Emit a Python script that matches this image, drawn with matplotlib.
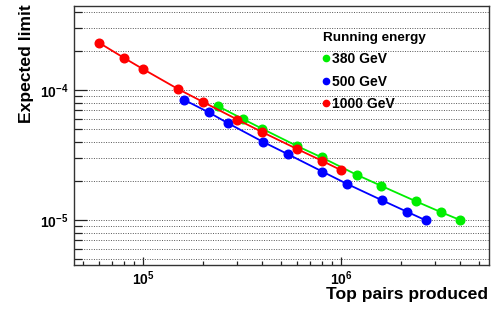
import matplotlib
matplotlib.use('Agg')
import matplotlib.pyplot as plt
from matplotlib.lines import Line2D
from matplotlib.ticker import LogLocator, FuncFormatter, NullFormatter
import numpy as np

plt.rcParams['font.family'] = ['Liberation Sans', 'DejaVu Sans']
plt.rcParams['font.weight'] = 'bold'
plt.rcParams['mathtext.fontset'] = 'custom'
plt.rcParams['mathtext.bf'] = 'Liberation Sans:bold'
plt.rcParams['mathtext.rm'] = 'Liberation Sans:bold'

# top pairs produced vs expected limit, one series per running energy
x_380 = [2.4e5, 3.2e5, 4.0e5, 6.0e5, 8.0e5, 1.2e6, 1.6e6, 2.4e6, 3.2e6, 4.0e6]
y_380 = [7.49e-5, 5.98e-5, 5.04e-5, 3.71e-5, 3.03e-5, 2.23e-5, 1.83e-5, 1.39e-5, 1.15e-5, 1.00e-5]

x_500 = [1.61e5, 2.15e5, 2.68e5, 4.03e5, 5.37e5, 8.05e5, 1.07e6, 1.61e6, 2.15e6, 2.68e6]
y_500 = [8.42e-5, 6.73e-5, 5.57e-5, 4.00e-5, 3.22e-5, 2.36e-5, 1.90e-5, 1.42e-5, 1.16e-5, 9.95e-6]

x_1000 = [6e4, 8e4, 1e5, 1.5e5, 2e5, 3e5, 4e5, 6e5, 8e5, 1e6]
y_1000 = [2.31e-4, 1.77e-4, 1.45e-4, 1.02e-4, 8.13e-5, 5.92e-5, 4.75e-5, 3.52e-5, 2.86e-5, 2.42e-5]

labels = ['380 GeV', '500 GeV', '1000 GeV']
cols = ['#00ee00', '#0000ff', '#ff0000']

W, H = 498, 312
fig = plt.figure(figsize=(W/100., H/100.), dpi=100)
ax = fig.add_axes([74./W, 1-265./H, (488.5-74.)/W, (265.-6.)/H])

series = [(x_380, y_380), (x_500, y_500), (x_1000, y_1000)]
for (xs, ys), c in zip(series, cols):
    ax.plot(xs, ys, '-', color=c, lw=1.3, marker='o', ms=6.2, mec=c, mfc=c)

ax.set_xscale('log')
ax.set_yscale('log')
ax.set_xlim(4.483e4, 5.56e6)
ax.set_ylim(4.51e-6, 4.43e-4)

def logfmt(v, pos):
    e = int(np.round(np.log10(v)))
    return r'$\mathbf{10^{%d}}$' % e

for axis in [ax.xaxis, ax.yaxis]:
    axis.set_major_locator(LogLocator(base=10, numticks=10))
    axis.set_minor_locator(LogLocator(base=10, subs=np.arange(2, 10), numticks=20))
    axis.set_major_formatter(FuncFormatter(logfmt))
    axis.set_minor_formatter(NullFormatter())

ax.tick_params(axis='both', which='both', direction='in', top=False, right=False,
               labelsize=10, color='#222222')
ax.tick_params(axis='y', which='major', length=9.4, width=0.9, pad=4)
ax.tick_params(axis='y', which='minor', length=5.8, width=0.9)
ax.tick_params(axis='x', which='major', length=5.8, width=0.9, pad=3)
ax.tick_params(axis='x', which='minor', length=2.9, width=0.9)

ax.grid(True, axis='y', which='both', ls=(0, (1, 1.5)), color='#555555', lw=0.7)
ax.grid(False, axis='x', which='both')
for s in ax.spines.values():
    s.set_color('#333333')
    s.set_linewidth(1.0)

fig.text(27./W, 1-4./H, 'Expected limit', rotation=90, ha='center', va='top',
         fontsize=12.6, fontweight='bold')
fig.text(488.5/W, 1-287.5/H, 'Top pairs produced', ha='right', va='top',
         fontsize=12.6, fontweight='bold')

handles = [Line2D([], [], ls='none', marker='o', ms=4.5, color=c) for c in cols]
leg = ax.legend(handles, labels, title='Running energy', loc='upper left',
                bbox_to_anchor=(323./W, 1-32./H), bbox_transform=fig.transFigure,
                frameon=False, fontsize=10, title_fontproperties={'size': 9.7, 'weight': 'bold'},
                handlelength=0.5, handletextpad=0.15, labelspacing=0.6, borderpad=0,
                borderaxespad=0, alignment='left')
for t in leg.get_texts():
    t.set_fontweight('bold')

fig.savefig('out.png', dpi=100)
